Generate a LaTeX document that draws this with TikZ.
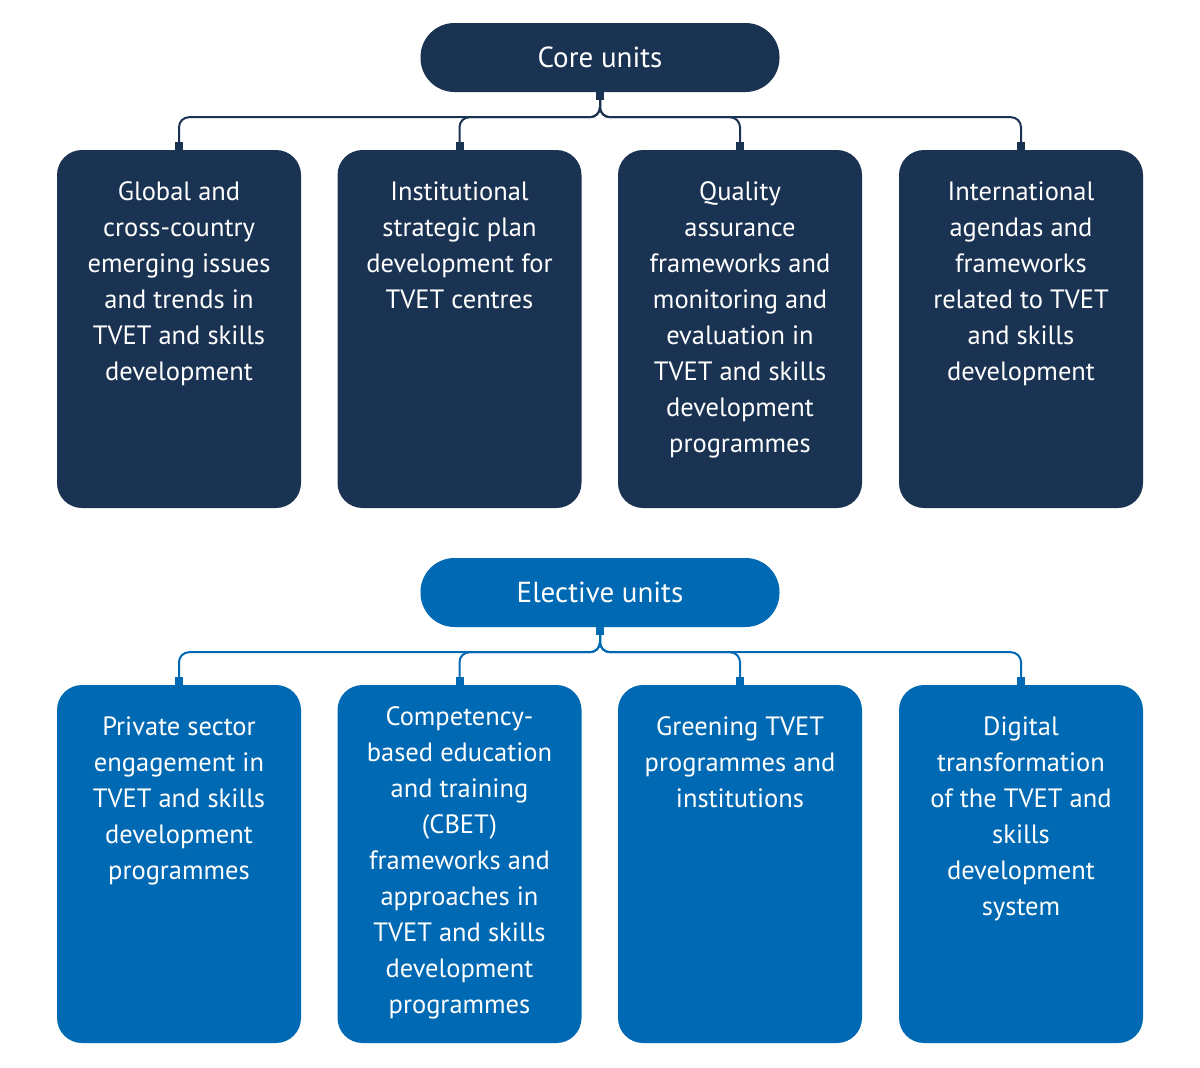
\documentclass[tikz,border=0pt]{standalone}
\usepackage{fontspec}
\setmainfont{PT Sans}
\usepackage{xcolor}
\usetikzlibrary{positioning,arrows.meta}

\definecolor{CoreNavy}{HTML}{1B3353}
\definecolor{ElectBlue}{HTML}{0069B4}

\begin{document}
\begin{tikzpicture}[x=1pt, y=-1pt,
    unittext/.style={text=white, font=\fontsize{26.5}{36}\selectfont, align=center, inner sep=0pt},
    header/.style={unittext, font=\fontsize{29}{36}\selectfont, minimum width=359pt, minimum height=69pt, rounded corners=34pt},
    unitbox/.style={minimum width=244pt, minimum height=358pt, rounded corners=25pt, inner sep=0pt},
    branch/.style={line width=2pt, rounded corners=10pt, {Square[length=8pt,width=8pt]}-{Square[length=8pt,width=8pt]}}]
  \useasboundingbox (0,0) rectangle (1200,1068);

  % core units
  \node[header, fill=CoreNavy] (core) at (600,57.5) {Core units};
  \node[unitbox, fill=CoreNavy] (c1) at (179,329) {};
  \node[unitbox, fill=CoreNavy] (c2) at (459.5,329) {};
  \node[unitbox, fill=CoreNavy] (c3) at (740,329) {};
  \node[unitbox, fill=CoreNavy] (c4) at (1021,329) {};

  \node[unittext, anchor=north, below=32pt of c1.north] (c1t) {Global and\\cross-country\\emerging issues\\and trends in\\TVET and skills\\development};
  \node[unittext, anchor=north, below=32pt of c2.north] (c2t) {Institutional\\strategic plan\\development for\\TVET centres};
  \node[unittext, anchor=north, below=32pt of c3.north] (c3t) {Quality\\assurance\\frameworks and\\monitoring and\\evaluation in\\TVET and skills\\development\\programmes};
  \node[unittext, anchor=north, below=32pt of c4.north] (c4t) {International\\agendas and\\frameworks\\related to TVET\\and skills\\development};

  \draw[branch, CoreNavy] (core.south) -- ++(0,25) -| (c1.north);
  \draw[branch, CoreNavy] (core.south) -- ++(0,25) -| (c2.north);
  \draw[branch, CoreNavy] (core.south) -- ++(0,25) -| (c3.north);
  \draw[branch, CoreNavy] (core.south) -- ++(0,25) -| (c4.north);

  % elective units
  \node[header, fill=ElectBlue] (elect) at (600,592.5) {Elective units};
  \node[unitbox, fill=ElectBlue] (e1) at (179,864) {};
  \node[unitbox, fill=ElectBlue] (e2) at (459.5,864) {};
  \node[unitbox, fill=ElectBlue] (e3) at (740,864) {};
  \node[unitbox, fill=ElectBlue] (e4) at (1021,864) {};

  \node[unittext, anchor=north, below=32pt of e1.north] (e1t) {Private sector\\engagement in\\TVET and skills\\development\\programmes};
  \node[unittext, anchor=north, below=22pt of e2.north] (e2t) {Competency-\\based education\\and training\\(CBET)\\frameworks and\\approaches in\\TVET and skills\\development\\programmes};
  \node[unittext, anchor=north, below=32pt of e3.north] (e3t) {Greening TVET\\programmes and\\institutions};
  \node[unittext, anchor=north, below=32pt of e4.north] (e4t) {Digital\\transformation\\of the TVET and\\skills\\development\\system};

  \draw[branch, ElectBlue] (elect.south) -- ++(0,25) -| (e1.north);
  \draw[branch, ElectBlue] (elect.south) -- ++(0,25) -| (e2.north);
  \draw[branch, ElectBlue] (elect.south) -- ++(0,25) -| (e3.north);
  \draw[branch, ElectBlue] (elect.south) -- ++(0,25) -| (e4.north);
\end{tikzpicture}
\end{document}
